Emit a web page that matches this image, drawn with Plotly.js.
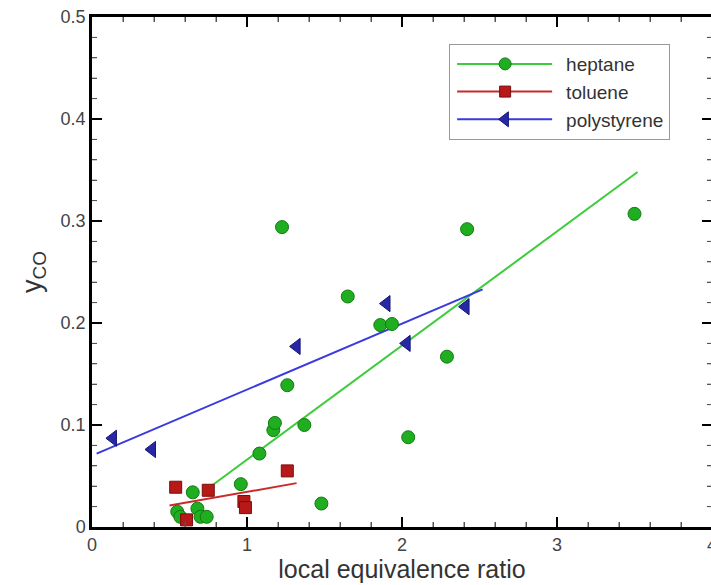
<!DOCTYPE html>
<html>
<head>
<meta charset="utf-8">
<script src="https://cdn.plot.ly/plotly-3.0.1.min.js"></script>
<style>
html, body { margin: 0; padding: 0; overflow: hidden; background: #fff; }
#chart { width: 720px; height: 585px; }
</style>
</head>
<body>
<div id="chart"></div>
<script>
// Data
const heptaneX = [0.55, 0.57, 0.65, 0.68, 0.70, 0.74, 0.96, 1.08, 1.17, 1.18, 1.26, 1.37, 1.48, 1.226, 1.65, 1.86, 1.935, 2.04, 2.29, 2.42, 3.50];
const heptaneY = [0.015, 0.010, 0.034, 0.018, 0.010, 0.010, 0.042, 0.072, 0.095, 0.102, 0.139, 0.100, 0.023, 0.294, 0.226, 0.198, 0.199, 0.088, 0.167, 0.292, 0.307];
const tolueneX = [0.54, 0.61, 0.75, 0.98, 0.99, 1.26];
const tolueneY = [0.039, 0.007, 0.036, 0.025, 0.019, 0.055];
const polyX = [0.135, 0.387, 1.32, 1.90, 2.03, 2.41];
const polyY = [0.087, 0.076, 0.177, 0.219, 0.180, 0.216];

// Linear fit lines (endpoints)
const heptaneFitX = [0.75, 3.52];
const heptaneFitY = [0.038, 0.348];
const tolueneFitX = [0.50, 1.32];
const tolueneFitY = [0.021, 0.043];
const polyFitX = [0.03, 2.52];
const polyFitY = [0.072, 0.233];

const seriesNames = ['heptane', 'toluene', 'polystyrene'];
const xRange = [0, 4];
const yRange = [0, 0.5];
const xMinorPerMajor = 5;   // minor step 0.2
const yMinorPerMajor = 5;   // minor step 0.02
const xMajorStep = 1;
const yMajorStep = 0.1;

const green = {line: '#3ccc3c', fill: '#1fae1f', edge: '#137a13'};
const red = {line: '#cc2a2a', fill: '#b71818', edge: '#7a0e0e'};
const blue = {line: '#3a3ae0', fill: '#2727a8', edge: '#161670'};

const traces = [
  {x: heptaneFitX, y: heptaneFitY, mode: 'lines', line: {color: green.line, width: 2}, showlegend: false, hoverinfo: 'skip'},
  {x: tolueneFitX, y: tolueneFitY, mode: 'lines', line: {color: red.line, width: 2}, showlegend: false, hoverinfo: 'skip'},
  {x: polyFitX, y: polyFitY, mode: 'lines', line: {color: blue.line, width: 2}, showlegend: false, hoverinfo: 'skip'},
  {x: heptaneX, y: heptaneY, mode: 'markers', name: seriesNames[0], showlegend: false,
   marker: {symbol: 'circle', size: 13, color: green.fill, line: {color: green.edge, width: 1}}},
  {x: tolueneX, y: tolueneY, mode: 'markers', name: seriesNames[1], showlegend: false,
   marker: {symbol: 'square', size: 12, color: red.fill, line: {color: red.edge, width: 1}}},
  {x: polyX, y: polyY, mode: 'markers', name: seriesNames[2], showlegend: false,
   marker: {symbol: 'triangle-left', size: 14, color: blue.fill, line: {color: blue.edge, width: 1}}},
  // legend entries (line + marker)
  {x: [null], y: [null], mode: 'lines+markers', name: seriesNames[0], line: {color: green.line, width: 2},
   marker: {symbol: 'circle', size: 12, color: green.fill, line: {color: green.edge, width: 1}}},
  {x: [null], y: [null], mode: 'lines+markers', name: seriesNames[1], line: {color: red.line, width: 2},
   marker: {symbol: 'square', size: 11, color: red.fill, line: {color: red.edge, width: 1}}},
  {x: [null], y: [null], mode: 'lines+markers', name: seriesNames[2], line: {color: blue.line, width: 2},
   marker: {symbol: 'triangle-left', size: 13, color: blue.fill, line: {color: blue.edge, width: 1}}}
];

// Inward tick marks on all four sides, placed in axis units with pixel lengths
const tickShapes = [];
function addTick(axis, value, major) {
  const len = major ? 10 : 5;
  const ln = {color: major ? '#000' : '#555', width: major ? 2 : 1};
  if (axis === 'x') {
    tickShapes.push({type: 'line', xref: 'x', yref: 'y', x0: value, x1: value,
      ysizemode: 'pixel', yanchor: yRange[0], y0: 0, y1: len, line: ln});
    tickShapes.push({type: 'line', xref: 'x', yref: 'y', x0: value, x1: value,
      ysizemode: 'pixel', yanchor: yRange[1], y0: 0, y1: -len, line: ln});
  } else {
    tickShapes.push({type: 'line', xref: 'x', yref: 'y', y0: value, y1: value,
      xsizemode: 'pixel', xanchor: xRange[0], x0: 0, x1: len, line: ln});
    tickShapes.push({type: 'line', xref: 'x', yref: 'y', y0: value, y1: value,
      xsizemode: 'pixel', xanchor: xRange[1], x0: 0, x1: -len, line: ln});
  }
}
const nx = Math.round((xRange[1] - xRange[0]) / xMajorStep) * xMinorPerMajor;
for (let i = 1; i < nx; i++) {
  addTick('x', xRange[0] + i * xMajorStep / xMinorPerMajor, i % xMinorPerMajor === 0);
}
const ny = Math.round((yRange[1] - yRange[0]) / yMajorStep) * yMinorPerMajor;
for (let i = 1; i < ny; i++) {
  addTick('y', yRange[0] + i * yMajorStep / yMinorPerMajor, i % yMinorPerMajor === 0);
}

const fontFam = 'Liberation Sans, Arial, sans-serif';
const axisCommon = {
  showline: true, linecolor: '#000', linewidth: 2.5, mirror: 'allticks',
  ticks: 'inside', ticklen: 10, tickwidth: 2, tickcolor: '#000',
  showgrid: false, zeroline: false,
  tickfont: {family: fontFam, size: 18, color: '#444'}
};

const layout = {
  width: 720, height: 585,
  margin: {l: 92, r: 8, t: 17, b: 58},
  paper_bgcolor: '#fff', plot_bgcolor: '#fff',
  font: {family: fontFam, color: '#333'},
  xaxis: Object.assign({}, axisCommon, {
    range: xRange, dtick: xMajorStep,
    minor: {dtick: xMajorStep / xMinorPerMajor, ticks: 'inside', ticklen: 5, tickwidth: 1, tickcolor: '#555'},
    title: {text: 'local equivalence ratio', font: {family: fontFam, size: 25, color: '#333'}, standoff: 2}
  }),
  yaxis: Object.assign({}, axisCommon, {
    range: yRange, dtick: yMajorStep,
    minor: {dtick: yMajorStep / yMinorPerMajor, ticks: 'inside', ticklen: 5, tickwidth: 1, tickcolor: '#555'},
    title: {text: 'y<sub>CO</sub>', font: {family: fontFam, size: 27, color: '#333'}, standoff: 12}
  }),
  shapes: tickShapes,
  legend: {
    x: 0.576, y: 0.947, xanchor: 'left', yanchor: 'top',
    bgcolor: '#fff', bordercolor: '#999', borderwidth: 1,
    font: {family: fontFam, size: 19, color: '#333'}, itemwidth: 106, tracegroupgap: 0
  }
};

Plotly.newPlot('chart', traces, layout, {displayModeBar: false}).then(function () {
  // stretch legend line samples to match the reference's long legend lines
  document.querySelectorAll('.legend .legendlines path').forEach(function (p) {
    p.setAttribute('d', 'M7,0h95');
  });
  document.querySelectorAll('.legend .legendsymbols .scatterpts').forEach(function (p) {
    p.setAttribute('transform', 'translate(55,0)');
  });
});
</script>
</body>
</html>
